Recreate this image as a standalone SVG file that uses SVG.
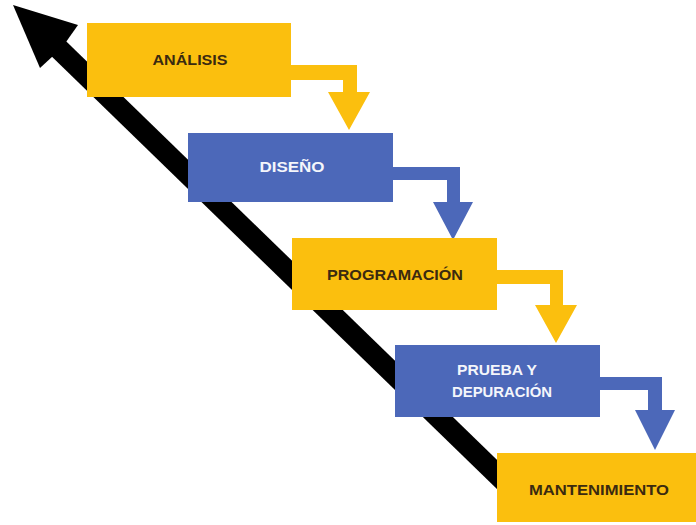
<svg xmlns="http://www.w3.org/2000/svg" width="696" height="525" viewBox="0 0 696 525">
<style>
.y{fill:#FBBF0E}
.b{fill:#4C68B9}
.t{font-family:"Liberation Sans",Arial,sans-serif;font-weight:bold;font-size:14px;text-anchor:middle;dominant-baseline:central}
.td{fill:#3A2A10}
.tw{fill:#F4F6FB}
</style>
<rect width="696" height="525" fill="#FFFFFF"/>
<g id="timeline-arrow">
<line x1="58" y1="48" x2="512" y2="489" stroke="#000" stroke-width="21"/>
<polygon points="13,5 78,25 66,42 53,56 40,68" fill="#000"/>
</g>
<g id="connectors">
<g id="c1" class="y"><polygon points="290,65 357,65 357,92 370,92 349,130 328,92 343,92 343,80 290,80"/></g>
<g id="c2" class="b"><polygon points="393,167 460,167 460,202 473,202 453,240 433,202 447,202 447,180 393,180"/></g>
<g id="c3" class="y"><polygon points="497,270 563,270 563,305 577,305 556,343 535,305 550,305 550,284 497,284"/></g>
<g id="c4" class="b"><polygon points="600,377 662,377 662,410 675,410 655,450 635,410 648,410 648,390 600,390"/></g>
</g>
<g id="analisis">
<rect class="y" x="87" y="23" width="204" height="74"/>
<text class="t td" x="190" y="60" textLength="75" lengthAdjust="spacingAndGlyphs">ANÁLISIS</text>
</g>
<g id="diseno">
<rect class="b" x="188" y="133" width="205" height="69"/>
<text class="t tw" x="292" y="167" textLength="65" lengthAdjust="spacingAndGlyphs">DISEÑO</text>
</g>
<g id="programacion">
<rect class="y" x="292" y="238" width="205" height="72"/>
<text class="t td" x="395" y="275" textLength="136" lengthAdjust="spacingAndGlyphs">PROGRAMACIÓN</text>
</g>
<g id="prueba">
<rect class="b" x="395" y="345" width="205" height="72"/>
<text class="t tw" x="497" y="370" textLength="80" lengthAdjust="spacingAndGlyphs">PRUEBA Y</text>
<text class="t tw" x="502" y="392" textLength="100" lengthAdjust="spacingAndGlyphs">DEPURACIÓN</text>
</g>
<g id="mantenimiento">
<rect class="y" x="497" y="453" width="199" height="69"/>
<text class="t td" x="599" y="490" textLength="140" lengthAdjust="spacingAndGlyphs">MANTENIMIENTO</text>
</g>
</svg>
